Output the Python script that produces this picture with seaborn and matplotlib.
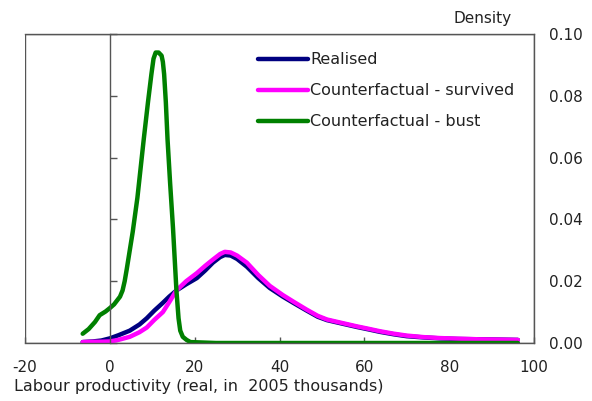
import numpy as np
import pandas as pd
import matplotlib
matplotlib.use("Agg")
import matplotlib.pyplot as plt
import seaborn as sns
from matplotlib.patches import Rectangle

# ---- data ----
x_main = [-6.4, -4, -2, 0, 2, 4.7, 7, 8.7, 10.5, 12.5, 14, 15.7, 18, 20.5, 22.5, 24.3,
          26, 27.1, 28.5, 30, 32.3, 35, 37.7, 40.8, 43.5, 46.4, 49, 51.2, 55, 58.2,
          61, 63.7, 67, 70, 74, 77.8, 82, 87, 92, 96.2]
realised = [0.0003, 0.0005, 0.0008, 0.0015, 0.0025, 0.004, 0.006, 0.008, 0.0105, 0.013,
            0.015, 0.017, 0.019, 0.021, 0.0235, 0.026, 0.0278, 0.0285, 0.0283, 0.0272,
            0.0247, 0.021, 0.0178, 0.015, 0.0128, 0.0105, 0.0085, 0.0074, 0.0062, 0.0052,
            0.0044, 0.0036, 0.0028, 0.0022, 0.0018, 0.0015, 0.0013, 0.0012, 0.0011, 0.001]
survived = [0.0003, 0.0004, 0.0004, 0.0005, 0.001, 0.002, 0.0035, 0.005, 0.0075, 0.010,
            0.0132, 0.017, 0.020, 0.0226, 0.025, 0.027, 0.0288, 0.0295, 0.0293, 0.0283,
            0.026, 0.022, 0.0185, 0.0155, 0.0132, 0.0108, 0.0088, 0.0076, 0.0064, 0.0054,
            0.0046, 0.0038, 0.003, 0.0024, 0.0019, 0.0016, 0.0014, 0.0012, 0.0011, 0.001]

x_bust = [-6.4, -5, -3.5, -2.4, -1, 0, 1, 2.4, 3, 3.5, 4, 4.7, 5.4, 6.5, 8.0, 9.0, 9.8,
          10.3, 10.8, 11.5, 12.2, 12.5, 12.8, 13.2, 13.6, 14.2, 14.9, 15.7, 16.2, 16.6,
          17.2, 18.1, 19, 25, 40, 60, 80, 96.2]
bust = [0.003, 0.0045, 0.0068, 0.009, 0.0102, 0.0113, 0.0125, 0.015, 0.017, 0.020, 0.024,
        0.030, 0.036, 0.047, 0.066, 0.078, 0.087, 0.092, 0.094, 0.094, 0.093, 0.091, 0.087,
        0.078, 0.066, 0.052, 0.037, 0.017, 0.008, 0.004, 0.002, 0.001, 0.0003, 0.0, 0.0,
        0.0, 0.0, 0.0]

labels = ["Realised", "Counterfactual - survived", "Counterfactual - bust"]
colors = ["#000080", "#FF00FF", "#008000"]
x_ticks = [-20, 0, 20, 40, 60, 80, 100]
y_ticks = [0.00, 0.02, 0.04, 0.06, 0.08, 0.10]

sns.set_theme(style="white")
plt.rcParams["font.family"] = ["DejaVu Sans"]

fig = plt.figure(figsize=(5.92, 4.01), dpi=100)
ax = fig.add_axes([25 / 592, 1 - 343 / 401, 509 / 592, 309 / 401])

line_kw = dict(linewidth=3.2, solid_capstyle="round", solid_joinstyle="round")
sns.lineplot(x=x_main, y=realised, color=colors[0], label=labels[0], ax=ax, **line_kw)
sns.lineplot(x=x_main, y=survived, color=colors[1], label=labels[1], ax=ax, **line_kw)
sns.lineplot(x=x_bust, y=bust, color=colors[2], label=labels[2], ax=ax, **line_kw)

ax.set_xlim(-20, 100)
ax.set_ylim(0, 0.10)
ax.set_xticks(x_ticks)
ax.set_yticks(y_ticks)
ax.set_xticklabels([str(t) for t in x_ticks])
ax.set_yticklabels([f"{t:.2f}" for t in y_ticks])

frame_col = "#555555"
for s in ["top", "right", "bottom"]:
    ax.spines[s].set_color(frame_col)
    ax.spines[s].set_linewidth(1)
ax.spines["left"].set_position(("data", 0))
ax.spines["left"].set_color(frame_col)
ax.spines["left"].set_linewidth(1)
ax.add_patch(Rectangle((0, 0), 1, 1, transform=ax.transAxes, fill=False,
                       edgecolor=frame_col, linewidth=1, zorder=0.5))

ax.tick_params(axis="y", left=True, right=False, labelleft=False, labelright=True,
               direction="in", length=5, width=1, color=frame_col, pad=11,
               labelsize=11, labelcolor="#222222")
ax.tick_params(axis="x", bottom=True, top=False, direction="in", length=4, width=1,
               color=frame_col, pad=12, labelsize=11, labelcolor="#222222")

ax.set_xlabel("Labour productivity (real, in  2005 thousands)", fontsize=11.5,
              color="#222222", ha="left", va="center")
ax.xaxis.set_label_coords((14 - 25) / 509, (343 - 387) / 309)
ax.set_ylabel("")

ax.text((512 - 25) / 509, (343 - 18) / 309, "Density", transform=ax.transAxes,
        ha="right", va="center", fontsize=11, color="#222222")

leg = ax.legend(loc="upper left", bbox_to_anchor=((258 - 25) / 509, (343 - 52.5) / 309),
                frameon=False, fontsize=11.5, handlelength=3.1, handletextpad=0.15,
                labelspacing=1.0, borderpad=0, borderaxespad=0)
for t in leg.get_texts():
    t.set_color("#222222")
for h in leg.get_lines():
    h.set_linewidth(3.2)

fig.savefig("out.png", dpi=100)
